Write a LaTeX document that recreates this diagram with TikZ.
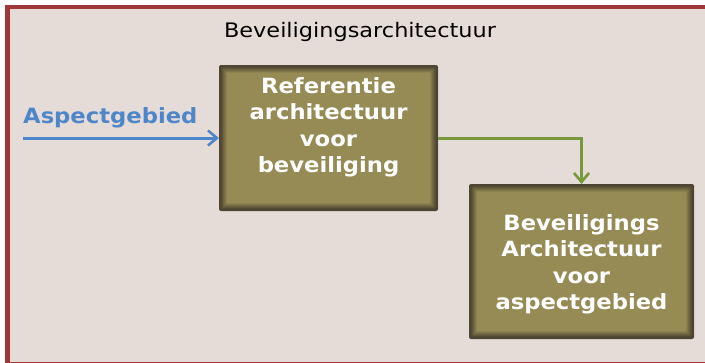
\documentclass[tikz,border=0pt]{standalone}
\usepackage{fontspec}
\setmainfont{DejaVu Sans}
\newfontfamily\titlefont[FakeStretch=1.12]{DejaVu Sans}
\newfontfamily\boxfont[FakeStretch=1.08]{DejaVu Sans}
\usetikzlibrary{arrows.meta}

\definecolor{bgpink}{HTML}{E6DCD7}
\definecolor{framered}{HTML}{9E3838}
\definecolor{olivebox}{HTML}{968B55}
\definecolor{darkrim}{HTML}{4E4630}
\definecolor{aspectblue}{HTML}{4D87C9}
\definecolor{flowgreen}{HTML}{77993B}

% soft inner rim: layered insets from the dark edge to the olive face
\newcommand\panelglow[1]{%
  \foreach \i in {1,...,10}{%
    \pgfmathsetmacro\p{max(0,\i-2)*12.5}%
    \fill[rounded corners=1pt, fill=olivebox!\p!darkrim]
      ([shift={(\i*0.8,\i*0.8)}]#1.north west) rectangle ([shift={(-\i*0.8,-\i*0.8)}]#1.south east);
  }%
}

\begin{document}
\begin{tikzpicture}[x=1pt,y=-1pt,
  panel/.style={fill=darkrim, rounded corners=2pt, inner sep=0pt, outer sep=0pt},
  boxtext/.style={text=white, font=\boxfont\bfseries\fontsize{21}{26.5}\selectfont, align=center, inner sep=0pt},
  flowblue/.style={draw=aspectblue, line width=3pt, -{Straight Barb[length=9pt,width=15pt,line width=2.6pt]}},
  flowgreen/.style={draw=flowgreen, line width=3pt, -{Straight Barb[length=9pt,width=15pt,line width=2.6pt]}}]

  \useasboundingbox (0,0) rectangle (705,362);
  \fill[white] (0,0) rectangle (705,362);
  % outer frame
  \draw[draw=framered, line width=4.5pt, fill=bgpink] (7.5,7) rectangle (712,364);

  \node[inner sep=0pt, anchor=base, font=\titlefont\fontsize{20}{24}\selectfont] (title) at (360,37) {Beveiligingsarchitectuur};

  % the two building blocks
  \node[panel, minimum width=219pt, minimum height=146pt] (ref) at (328.5,138) {};
  \panelglow{ref}
  \node[panel, minimum width=225pt, minimum height=155pt] (bev) at (581.5,261.5) {};
  \panelglow{bev}

  \node[boxtext] (reftext) at (328.5,127.5) {Referentie\\architectuur\\voor\\beveiliging};
  \node[boxtext] (bevtext) at (581.5,264.5) {Beveiligings\\Architectuur\\voor\\aspectgebied};

  % input label and connectors
  \node[inner sep=0pt, anchor=base west, text=aspectblue, font=\boxfont\bfseries\fontsize{21}{25}\selectfont] (aspect) at (23,123) {Aspectgebied};
  \coordinate (aspin) at (23,138);
  \draw[flowblue] (aspin) -- (ref.west);
  \draw[flowgreen] (ref.east) -| (bev.north);
\end{tikzpicture}
\end{document}
